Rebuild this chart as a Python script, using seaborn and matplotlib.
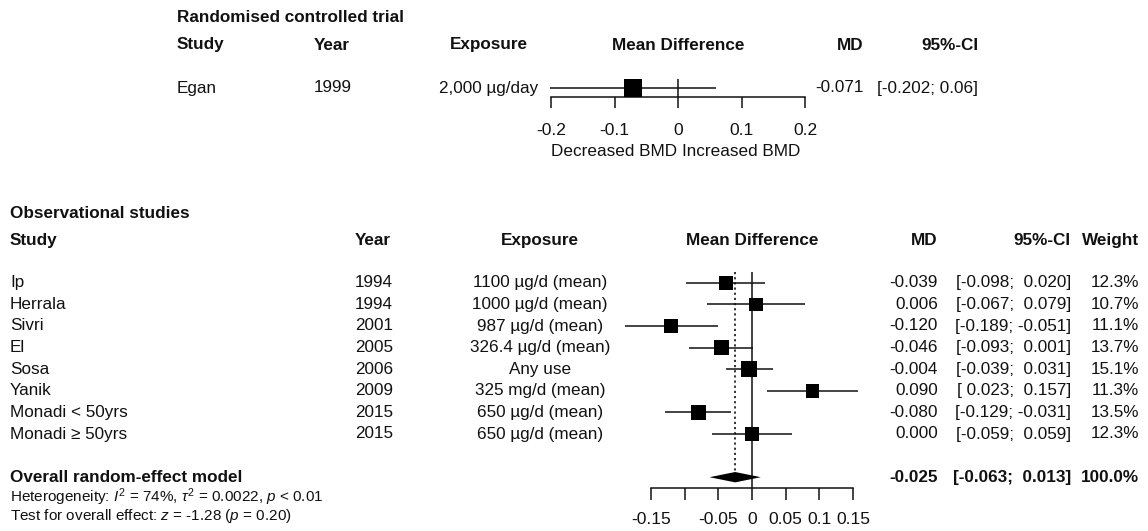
import matplotlib
matplotlib.use("Agg")
import matplotlib.pyplot as plt
import matplotlib.transforms as mtransforms
import numpy as np
import pandas as pd
import seaborn as sns

# ---- Randomised controlled trial ----
rct_study = ["Egan"]
rct_year = ["1999"]
rct_exposure = ["2,000 µg/day"]
rct_md = [-0.071]
rct_lo = [-0.202]
rct_hi = [0.06]
rct_ci_text = ["[-0.202; 0.06]"]
rct_ticks = [-0.2, -0.1, 0, 0.1, 0.2]
rct_ticklabels = ["-0.2", "-0.1", "0", "0.1", "0.2"]

# ---- Observational studies ----
obs_study = ["Ip", "Herrala", "Sivri", "El", "Sosa", "Yanik",
             "Monadi < 50yrs", "Monadi \u2265 50yrs"]
obs_year = ["1994", "1994", "2001", "2005", "2006", "2009", "2015", "2015"]
obs_exposure = ["1100 µg/d (mean)", "1000 µg/d (mean)", "987 µg/d (mean)",
                "326.4 µg/d (mean)", "Any use", "325 mg/d (mean)",
                "650 µg/d (mean)", "650 µg/d (mean)"]
obs_md = [-0.039, 0.006, -0.120, -0.046, -0.004, 0.090, -0.080, 0.000]
obs_lo = [-0.098, -0.067, -0.189, -0.093, -0.039, 0.023, -0.129, -0.059]
obs_hi = [0.020, 0.079, -0.051, 0.001, 0.031, 0.157, -0.031, 0.059]
obs_weight = [12.3, 10.7, 11.1, 13.7, 15.1, 11.3, 13.5, 12.3]

overall_md = -0.025
overall_lo = -0.063
overall_hi = 0.013
overall_weight = 100.0
obs_ticks = [-0.15, -0.10, -0.05, 0, 0.05, 0.10, 0.15]
obs_ticklabels = ["-0.15", "", "-0.05", "0", "0.05", "0.1", "0.15"]

het_text = r"Heterogeneity: $I^2$ = 74%, $\tau^2$ = 0.0022, $p$ < 0.01"
test_text = r"Test for overall effect: $z$ = -1.28 ($p$ = 0.20)"

# ---- styling ----
sns.set_theme(style="white")
plt.rcParams["font.family"] = ["Liberation Sans", "DejaVu Sans"]
plt.rcParams["mathtext.fontset"] = "custom"
plt.rcParams["mathtext.rm"] = "Liberation Sans"
plt.rcParams["mathtext.it"] = "Liberation Sans:italic"
plt.rcParams["mathtext.bf"] = "Liberation Sans:bold"
plt.rcParams["axes.unicode_minus"] = False

FS = 12.3
FS_TICK = 12.6
FS_SMALL = 11.0
INK = "#111111"
W, H = 1148, 531

fig = plt.figure(figsize=(W / 100, H / 100), dpi=100)
fig.patch.set_facecolor("white")


def fx(px):
    return px / W


def fy(py):
    return 1 - py / H


def ftext(x, y, s, **kw):
    kw.setdefault("fontsize", FS)
    kw.setdefault("va", "center")
    fig.text(fx(x), fy(y), s, color=INK, **kw)


# ================= top panel: RCT =================
ax_t = fig.add_axes([fx(551), fy(97), (805 - 551) / W, 18 / H])
ax_t.set_facecolor("none")
rct_rows = np.arange(len(rct_study))
rct_df = pd.DataFrame({"md": rct_md, "row": rct_rows})

ax_t.hlines(rct_rows, rct_lo, rct_hi, color=INK, lw=1.1, clip_on=False, zorder=2)
ax_t.axvline(0, color=INK, lw=1.1, zorder=1)
sns.scatterplot(data=rct_df, x="md", y="row", marker="s", s=150, color="black",
                linewidth=0, legend=False, ax=ax_t, zorder=3, clip_on=False)
ax_t.set_xlim(-0.2, 0.2)
ax_t.set_ylim(1, -1)
ax_t.set_xlabel("")
ax_t.set_ylabel("")
ax_t.set_yticks([])
for side in ["top", "left", "right"]:
    ax_t.spines[side].set_visible(False)
ax_t.spines["bottom"].set_color(INK)
ax_t.spines["bottom"].set_linewidth(1.1)
ax_t.set_xticks(rct_ticks)
ax_t.set_xticklabels(rct_ticklabels)
ax_t.tick_params(axis="x", direction="out", length=8, width=1.1, color=INK,
                 labelcolor=INK, labelsize=FS_TICK, pad=10.5, bottom=True)
ax_t.grid(False)

tr_t = mtransforms.blended_transform_factory(fig.transFigure, ax_t.transData)
tr_tx = mtransforms.blended_transform_factory(ax_t.transData, fig.transFigure)

ftext(177, 17, "Randomised controlled trial", fontweight="bold")
ftext(177, 45, "Study", fontweight="bold")
ftext(314, 45, "Year", fontweight="bold")
ftext(489, 45, "Exposure", fontweight="bold", ha="center")
ax_t.text(0, fy(45), "Mean Difference", transform=tr_tx, ha="center", va="center",
          fontsize=FS, fontweight="bold", color=INK)
ftext(864, 45, "MD", fontweight="bold", ha="right")
ftext(978, 45, "95%-CI", fontweight="bold", ha="right")

for r, s, yr, ex, m, ci in zip(rct_rows, rct_study, rct_year, rct_exposure,
                               rct_md, rct_ci_text):
    ax_t.text(fx(177), r, s, transform=tr_t, va="center", fontsize=FS, color=INK)
    ax_t.text(fx(314), r, yr, transform=tr_t, va="center", fontsize=FS, color=INK)
    ax_t.text(fx(489), r, ex, transform=tr_t, va="center", ha="center", fontsize=FS,
              color=INK)
    ax_t.text(fx(864), r, f"{m:.3f}", transform=tr_t, va="center", ha="right",
              fontsize=FS, color=INK)
    ax_t.text(fx(978), r, ci, transform=tr_t, va="center", ha="right", fontsize=FS,
              color=INK)

ax_t.text(-0.1, fy(152), "Decreased BMD", transform=tr_tx, ha="center", va="center",
          fontsize=FS, color=INK)
ax_t.text(0.1, fy(152), "Increased BMD", transform=tr_tx, ha="center", va="center",
          fontsize=FS, color=INK)

# ================= bottom panel: observational =================
ax_b = fig.add_axes([fx(651), fy(488), (853 - 651) / W, 216 / H])
ax_b.set_facecolor("none")
obs_rows = np.arange(len(obs_study))
overall_row = len(obs_study) + 1
obs_df = pd.DataFrame({"md": obs_md, "row": obs_rows, "weight": obs_weight})

ax_b.hlines(obs_rows, obs_lo, obs_hi, color=INK, lw=1.1, clip_on=False, zorder=2)
ax_b.axvline(0, color=INK, lw=1.1, zorder=1)
ax_b.plot([overall_md, overall_md], [-0.5, overall_row], color=INK, lw=1.2,
          linestyle=(0, (1.3, 1.8)), zorder=1)
k = 8.5  # marker area in pt^2 per weight percent
sns.scatterplot(data=obs_df, x="md", y="row", size="weight",
                sizes=(k * min(obs_weight), k * max(obs_weight)),
                marker="s", color="black", linewidth=0, legend=False,
                ax=ax_b, zorder=3, clip_on=False)
dh = 0.24
ax_b.fill([overall_lo, overall_md, overall_hi, overall_md],
          [overall_row, overall_row - dh, overall_row, overall_row + dh],
          color="black", lw=0, zorder=3)
ax_b.set_xlim(-0.15, 0.15)
ax_b.set_ylim(overall_row + 0.5, -0.5)
ax_b.set_xlabel("")
ax_b.set_ylabel("")
ax_b.set_yticks([])
for side in ["top", "left", "right"]:
    ax_b.spines[side].set_visible(False)
ax_b.spines["bottom"].set_color(INK)
ax_b.spines["bottom"].set_linewidth(1.1)
ax_b.set_xticks(obs_ticks)
ax_b.set_xticklabels(obs_ticklabels)
ax_b.tick_params(axis="x", direction="out", length=8.6, width=1.1, color=INK,
                 labelcolor=INK, labelsize=FS_TICK, pad=8.5, bottom=True)
ax_b.grid(False)

tr_b = mtransforms.blended_transform_factory(fig.transFigure, ax_b.transData)
tr_bx = mtransforms.blended_transform_factory(ax_b.transData, fig.transFigure)

ftext(10, 213, "Observational studies", fontweight="bold")
ftext(10, 240, "Study", fontweight="bold")
ftext(355, 240, "Year", fontweight="bold")
ftext(540, 240, "Exposure", fontweight="bold", ha="center")
ax_b.text(0, fy(240), "Mean Difference", transform=tr_bx, ha="center", va="center",
          fontsize=FS, fontweight="bold", color=INK)
ftext(938, 240, "MD", fontweight="bold", ha="right")
ftext(1071, 240, "95%-CI", fontweight="bold", ha="right")
ftext(1139, 240, "Weight", fontweight="bold", ha="right")

for r, s, yr, ex, m, l, h, w in zip(obs_rows, obs_study, obs_year, obs_exposure,
                                     obs_md, obs_lo, obs_hi, obs_weight):
    ax_b.text(fx(10), r, s, transform=tr_b, va="center", fontsize=FS, color=INK)
    ax_b.text(fx(355), r, yr, transform=tr_b, va="center", fontsize=FS, color=INK)
    ax_b.text(fx(540), r, ex, transform=tr_b, va="center", ha="center", fontsize=FS,
              color=INK)
    ax_b.text(fx(938), r, f"{m:.3f}", transform=tr_b, va="center", ha="right",
              fontsize=FS, color=INK)
    ax_b.text(fx(1071), r, f"[{l:6.3f}; {h:6.3f}]", transform=tr_b, va="center",
              ha="right", fontsize=FS, color=INK)
    ax_b.text(fx(1139), r, f"{w:.1f}%", transform=tr_b, va="center", ha="right",
              fontsize=FS, color=INK)

ax_b.text(fx(10), overall_row, "Overall random-effect model", transform=tr_b,
          va="center", fontsize=FS, fontweight="bold", color=INK)
ax_b.text(fx(938), overall_row, f"{overall_md:.3f}", transform=tr_b, va="center",
          ha="right", fontsize=FS, fontweight="bold", color=INK)
ax_b.text(fx(1071), overall_row, f"[{overall_lo:6.3f}; {overall_hi:6.3f}]",
          transform=tr_b, va="center", ha="right", fontsize=FS, fontweight="bold",
          color=INK)
ax_b.text(fx(1139), overall_row, f"{overall_weight:.1f}%", transform=tr_b,
          va="center", ha="right", fontsize=FS, fontweight="bold", color=INK)

ftext(10, 497, het_text, fontsize=FS_SMALL)
ftext(10, 516, test_text, fontsize=FS_SMALL)

fig.savefig("out.png", dpi=100, facecolor="white")
